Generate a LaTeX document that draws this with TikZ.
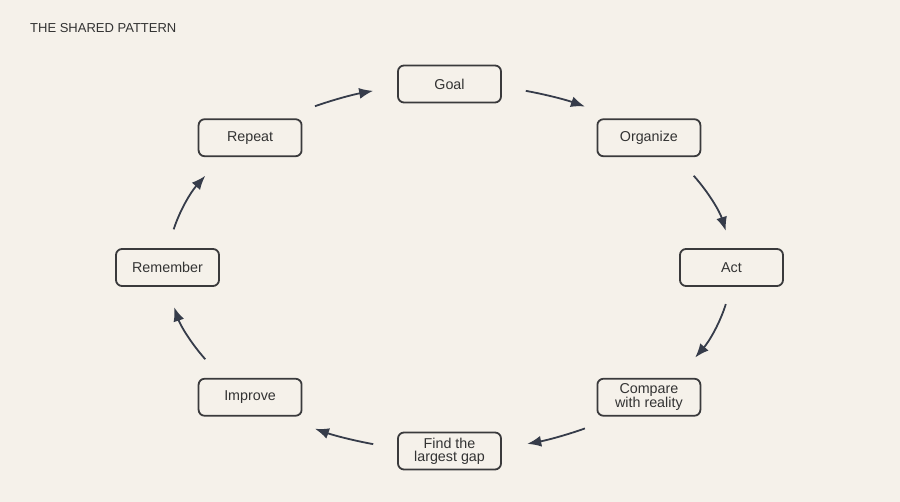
\documentclass[tikz,border=0pt]{standalone}
\usepackage{fontspec}
\setmainfont{Liberation Sans}
\usetikzlibrary{arrows.meta,calc}
\definecolor{bg}{HTML}{F5F1EA}
\definecolor{boxline}{HTML}{3A3A3C}
\definecolor{txt}{HTML}{333333}
\definecolor{arrowc}{HTML}{363C4A}
\tikzset{
  stepbox/.style={draw=boxline, line width=1.8pt, rounded corners=6pt, fill=bg,
    minimum width=103pt, minimum height=37pt, inner sep=2pt, align=center,
    text=txt, font=\fontsize{14.3pt}{13pt}\selectfont},
  arr/.style={draw=arrowc, line width=1.8pt, -{Latex[length=14pt,width=11pt]}},
  titletext/.style={text=txt, font=\fontsize{13pt}{15pt}\selectfont, anchor=west, inner sep=0pt}
}
\begin{document}
\begin{tikzpicture}[x=1pt,y=1pt]
\fill[bg] (0,0) rectangle (900,502);
\useasboundingbox (0,0) rectangle (900,502);
\node[titletext] (title) at (30,474) {THE SHARED PATTERN};
\coordinate (c) at (449.5,234.5);
\def\ax{282}\def\by{183.5}
\node[stepbox] (goal) at ($(c)+(90:\ax pt and \by pt)$) {Goal};
\node[stepbox] (organize) at ($(c)+(45:\ax pt and \by pt)$) {Organize};
\node[stepbox] (act) at ($(c)+(0:\ax pt and \by pt)$) {Act};
\node[stepbox] (compare) at ($(c)+(-45:\ax pt and \by pt)$) {Compare\\with reality};
\node[stepbox] (gap) at ($(c)+(-90:\ax pt and \by pt)$) {Find the\\largest gap};
\node[stepbox] (improve) at ($(c)+(-135:\ax pt and \by pt)$) {Improve};
\node[stepbox] (remember) at ($(c)+(180:\ax pt and \by pt)$) {Remember};
\node[stepbox] (repeat) at ($(c)+(135:\ax pt and \by pt)$) {Repeat};
\foreach \s/\e in {118.5/105.7, 74.3/61.3, 30/11.5, -11.5/-29.4, -61.3/-74, -105.7/-118.5, -150/-167.5, 168/150}{
  \draw[arr] ($(c)+(\s:\ax pt and \by pt)$) arc[start angle=\s, end angle=\e, x radius=\ax pt, y radius=\by pt];
}
\end{tikzpicture}
\end{document}
